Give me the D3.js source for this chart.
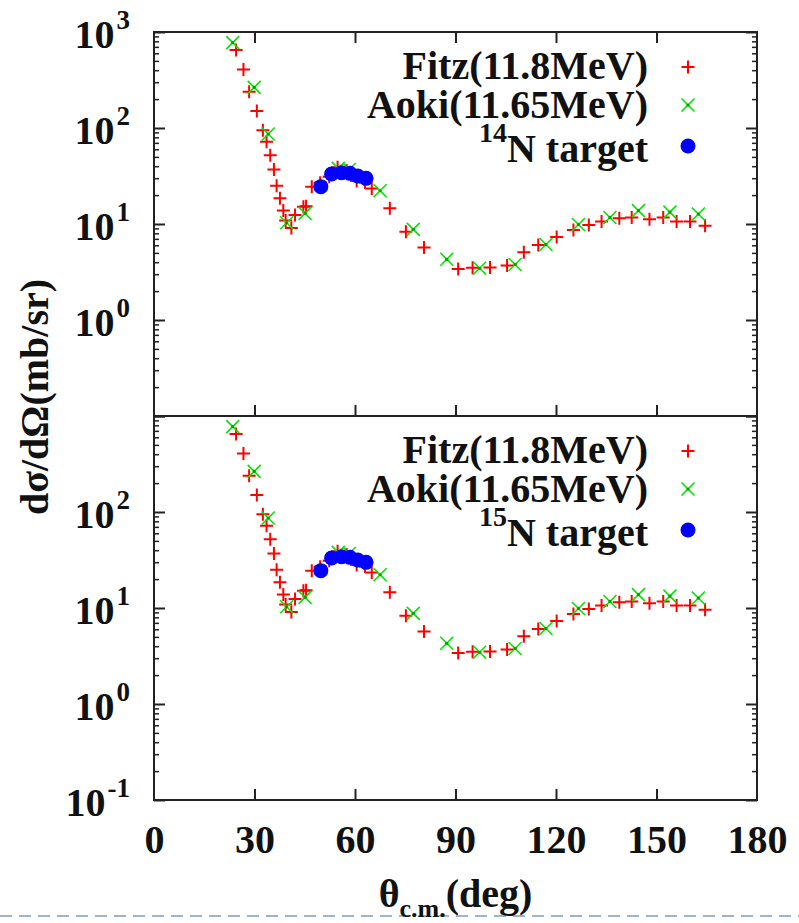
<!DOCTYPE html>
<html lang="en">
<head>
<meta charset="UTF-8">
<title>Elastic scattering cross section</title>
<style>
  body { margin: 0; background: #fff; }
</style>
</head>
<body>
<svg width="799" height="923"></svg>
<script src="https://d3js.org/d3.v7.min.js"></script>
<script>
// Fitz (11.8 MeV) data: angle (deg, c.m.) and cross section (mb/sr)
const fitzAngle = [24.5, 26.7, 28.4, 30.7, 32.5, 33.6, 34.7, 35.8, 36.6, 37.6, 38.6, 39.3, 41.0, 42.1, 44.6, 45.4,
                   47.1, 49.6, 52.3, 54.8, 57.5, 60.5, 63.0, 65.0, 70.4, 75.2, 80.6, 90.8, 95.1, 100.3, 105.4,
                   110.4, 114.7, 120.2, 125.2, 129.8, 133.6, 138.9, 142.6, 147.9, 152.0, 156.0, 160.0, 164.5];
const fitzSigma = [649, 408, 239, 150, 95, 72, 52, 37, 25, 18.5, 13.8, 10.9, 9.1, 12.4, 15.1, 15.3,
                   24.5, 26.9, 31, 39, 36, 28, 27, 23.5, 14.6, 8.3, 5.7, 3.40, 3.51, 3.52, 3.70,
                   5.08, 6.04, 7.32, 8.66, 9.77, 10.6, 11.5, 11.7, 11.2, 11.7, 10.6, 10.6, 9.6];

// Aoki (11.65 MeV)
const aokiAngle = [23.5, 29.9, 34.1, 39.6, 45.1, 55.0, 58.3, 67.5, 77.4, 87.4, 97.2, 107.8, 117.0, 126.7, 136.1, 144.6, 154.0, 162.5];
const aokiSigma = [774, 265, 86.6, 10.3, 12.9, 38, 37, 22.2, 8.8, 4.29, 3.46, 3.79, 6.11, 9.89, 11.7, 13.8, 13.3, 12.7];

// this work, N target
const targetAngle = [49.8, 53.0, 56.0, 58.5, 60.8, 63.3];
const targetSigma = [24.5, 33.2, 34.2, 33.7, 31.6, 29.9];

const panelMass = ["14", "15"];
const xTicks = [0, 30, 60, 90, 120, 150, 180];
const yLabelExp = [[3, 2, 1, 0], [2, 1, 0, -1]];
const legendNames = ["Fitz(11.8MeV)", "Aoki(11.65MeV)"];

const serif = '"Liberation Serif", "Times New Roman", "DejaVu Serif", serif';
const svg = d3.select("svg")
    .style("font-family", serif).style("font-weight", "bold");
const plotLeft = 154, plotRight = 757, plotTop = 32, panelH = 384;
const font = 40;

const x = d3.scaleLinear().domain([0, 180]).range([plotLeft, plotRight]);

const fitz = fitzAngle.map((a, i) => ({a, s: fitzSigma[i]}));
const aoki = aokiAngle.map((a, i) => ({a, s: aokiSigma[i]}));
const target = targetAngle.map((a, i) => ({a, s: targetSigma[i]}));

const minorVals = [];
for (let d = -1; d < 3; d++) for (let m = 2; m <= 9; m++) minorVals.push(m * Math.pow(10, d));
const majorVals = [0.1, 1, 10, 100, 1000];

function label(sel) {
    return sel.append("text")
        .style("font-family", serif).style("font-weight", "bold")
        .attr("fill", "#111").attr("font-size", font);
}

// bottom dashed slide line
svg.append("line")
    .attr("x1", 0).attr("x2", 799).attr("y1", 916).attr("y2", 916)
    .attr("stroke", "#9fb4c9").attr("stroke-width", 2)
    .attr("stroke-dasharray", "12,7");

function plusPath(g, sx, sy) {
    g.append("path")
        .attr("d", `M${sx - 6.5},${sy}H${sx + 6.5}M${sx},${sy - 6.5}V${sy + 6.5}`)
        .attr("stroke", "#ff0000").attr("stroke-width", 2).attr("fill", "none");
}
function crossPath(g, sx, sy) {
    g.append("path")
        .attr("d", `M${sx - 6.5},${sy - 6.5}L${sx + 6.5},${sy + 6.5}M${sx - 6.5},${sy + 6.5}L${sx + 6.5},${sy - 6.5}`)
        .attr("stroke", "#00e600").attr("stroke-width", 1.6).attr("fill", "none");
    g.append("circle").attr("cx", sx).attr("cy", sy).attr("r", 1.6).attr("fill", "#00a000");
}

panelMass.forEach((mass, p) => {
    const y0 = plotTop + p * panelH;
    const y = d3.scaleLog().domain([0.1, 1000]).range([y0 + panelH, y0]);
    const g = svg.append("g");

    // y ticks, pointing inwards on both sides
    [[d3.axisLeft, plotLeft], [d3.axisRight, plotRight]].forEach(([ax, px]) => {
        g.append("g").attr("transform", `translate(${px},0)`)
            .call(ax(y).tickValues(minorVals).tickSize(-5).tickFormat(""))
            .call(s => s.select(".domain").remove())
            .selectAll("line").attr("stroke", "#222").attr("stroke-width", 1.5);
        g.append("g").attr("transform", `translate(${px},0)`)
            .call(ax(y).tickValues(majorVals).tickSize(-11).tickFormat(""))
            .call(s => s.select(".domain").remove())
            .selectAll("line").attr("stroke", "#222").attr("stroke-width", 2);
    });

    // x ticks
    const inner = xTicks.slice(1, -1);
    if (p === 0) {
        g.append("g").attr("transform", `translate(0,${y0})`)
            .call(d3.axisTop(x).tickValues(inner).tickSize(-11).tickFormat(""))
            .call(s => s.select(".domain").remove())
            .selectAll("line").attr("stroke", "#222").attr("stroke-width", 2);
        g.append("g").attr("transform", `translate(0,${y0 + panelH})`)
            .call(d3.axisBottom(x).tickValues(inner).tickSize(-11).tickFormat(""))
            .call(s => s.select(".domain").remove())
            .selectAll("line").attr("stroke", "#222").attr("stroke-width", 2);
    } else {
        const xa = g.append("g").attr("transform", `translate(0,${y0 + panelH})`)
            .call(d3.axisBottom(x).tickValues(xTicks).tickSize(-11).tickPadding(25).tickFormat(d3.format("d")))
            .call(s => s.select(".domain").remove());
        xa.selectAll("line").attr("stroke", "#222").attr("stroke-width", 2)
            .filter(d => d === 0 || d === 180).remove();
        xa.selectAll("text").attr("font-size", font).attr("fill", "#111")
            .style("font-family", serif).style("font-weight", "bold");
    }

    // y tick labels 10^n
    yLabelExp[p].forEach(e => {
        const t = label(g)
            .attr("x", 130).attr("y", y(Math.pow(10, e)) + 16)
            .attr("text-anchor", "end");
        t.append("tspan").text("10");
        t.append("tspan").attr("font-size", 27).attr("dx", 2).attr("dy", -19).text(e < 0 ? "-" + (-e) : e);
    });

    // frame
    g.append("rect")
        .attr("x", plotLeft).attr("y", y0).attr("width", plotRight - plotLeft).attr("height", panelH)
        .attr("fill", "none").attr("stroke", "#222").attr("stroke-width", 2);

    // data
    const dg = g.append("g");
    fitz.forEach(d => plusPath(dg, x(d.a), y(d.s)));
    aoki.forEach(d => crossPath(dg, x(d.a), y(d.s)));
    dg.selectAll("circle.tg").data(target).join("circle")
        .attr("class", "tg")
        .attr("cx", d => x(d.a)).attr("cy", d => y(d.s)).attr("r", 7.5)
        .attr("fill", "#0000ff");

    // legend
    const lg = g.append("g").attr("transform", `translate(0,${y0})`);
    const rowText = [47, 86, 130];
    const rowMark = [35, 73, 114];
    legendNames.forEach((n, i) => {
        label(lg).attr("x", 648).attr("y", rowText[i])
            .attr("text-anchor", "end").text(n);
    });
    const t3 = label(lg).attr("x", 648).attr("y", rowText[2])
        .attr("text-anchor", "end");
    t3.append("tspan").attr("font-size", 28).attr("dy", -20).text(mass);
    t3.append("tspan").attr("dy", 20).text("N target");
    plusPath(lg, 688, rowMark[0]);
    crossPath(lg, 688, rowMark[1]);
    lg.append("circle").attr("cx", 688).attr("cy", rowMark[2]).attr("r", 7.5).attr("fill", "#0000ff");
});

// axis titles
label(svg)
    .attr("transform", "translate(48,397) rotate(-90)")
    .attr("text-anchor", "middle")
    .text("dσ/dΩ(mb/sr)");

const xt = label(svg)
    .attr("x", (plotLeft + plotRight) / 2).attr("y", 907)
    .attr("text-anchor", "middle");
xt.append("tspan").text("θ");
xt.append("tspan").attr("font-size", 26).attr("dy", 10).text("c.m.");
xt.append("tspan").attr("dy", -10).text("(deg)");
</script>
</body>
</html>
